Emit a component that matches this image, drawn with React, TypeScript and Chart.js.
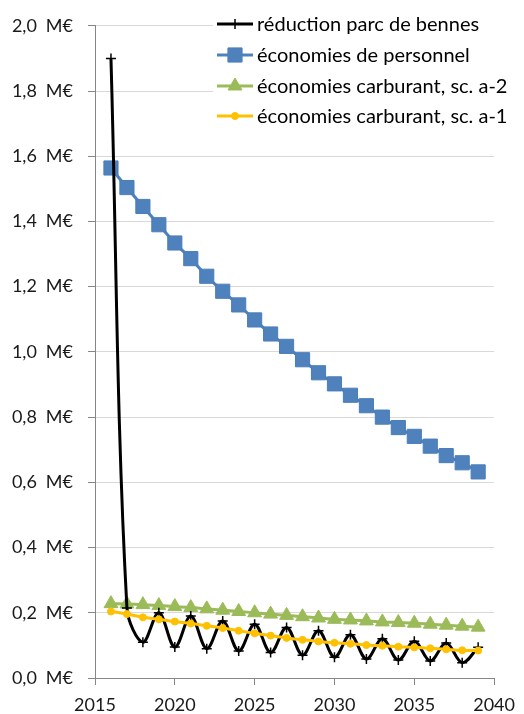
import React, { useEffect, useRef } from 'react';
import { Chart, registerables } from 'chart.js';
import { drawPoint } from 'chart.js/helpers';

Chart.register(...registerables);

// ---- data ----
const years = [2016, 2017, 2018, 2019, 2020, 2021, 2022, 2023, 2024, 2025, 2026, 2027,
  2028, 2029, 2030, 2031, 2032, 2033, 2034, 2035, 2036, 2037, 2038, 2039];

const reductionParc = [1.90, 0.215, 0.11, 0.20, 0.095, 0.19, 0.09, 0.175, 0.083, 0.165, 0.078, 0.155,
  0.07, 0.145, 0.064, 0.133, 0.058, 0.12, 0.055, 0.113, 0.052, 0.107, 0.047, 0.094];

const economiesPersonnel = [1.564, 1.504, 1.446, 1.39, 1.334, 1.286, 1.232, 1.186, 1.144, 1.098, 1.055, 1.017,
  0.976, 0.936, 0.902, 0.867, 0.835, 0.80, 0.768, 0.741, 0.711, 0.682, 0.66, 0.632];

const carburantA2 = [0.228, 0.227, 0.225, 0.222, 0.219, 0.216, 0.212, 0.208, 0.204, 0.200, 0.196, 0.192,
  0.188, 0.184, 0.180, 0.178, 0.175, 0.172, 0.170, 0.168, 0.165, 0.162, 0.159, 0.156];

const carburantA1 = [0.204, 0.196, 0.186, 0.180, 0.173, 0.167, 0.160, 0.153, 0.145, 0.137, 0.130, 0.123,
  0.117, 0.112, 0.108, 0.105, 0.101, 0.099, 0.096, 0.094, 0.091, 0.088, 0.085, 0.084];

const seriesLabels = [
  'réduction parc de bennes',
  'économies de personnel',
  'économies carburant, sc. a-2',
  'économies carburant, sc. a-1',
];

const xTickValues = [2015, 2020, 2025, 2030, 2035, 2040];
const yTickValues = [0, 0.2, 0.4, 0.6, 0.8, 1.0, 1.2, 1.4, 1.6, 1.8, 2.0];

const FONT = 'Lato, "Open Sans", sans-serif';

const toPoints = (vals: number[]) => vals.map((v, i) => ({ x: years[i], y: v }));

const legendPlugin = {
  id: 'excelLegend',
  afterDraw(chart: any) {
    const ctx = chart.ctx;
    ctx.save();
    ctx.fillStyle = '#ffffff';
    ctx.fillRect(213, 6, 311, 126);
    const rowY = [24, 55, 86, 116];
    chart.data.datasets.forEach((ds: any) => {
      const y = rowY[ds.legendIndex];
      ctx.strokeStyle = ds.borderColor;
      ctx.lineWidth = 3;
      ctx.lineCap = 'butt';
      ctx.beginPath();
      ctx.moveTo(217, y);
      ctx.lineTo(253, y);
      ctx.stroke();
      ctx.fillStyle = ds.pointBackgroundColor;
      ctx.strokeStyle = ds.pointBorderColor;
      ctx.lineWidth = ds.pointBorderWidth;
      drawPoint(ctx, {
        pointStyle: ds.pointStyle,
        radius: ds.pointRadius,
        rotation: 0,
        borderWidth: ds.pointBorderWidth,
      } as any, 235, y);
      ctx.fillStyle = '#000000';
      ctx.font = `20px ${FONT}`;
      ctx.textBaseline = 'middle';
      ctx.textAlign = 'left';
      ctx.fillText(ds.label, 257, y + 1);
    });
    ctx.restore();
  },
};

export default function App() {
  const canvasRef = useRef<HTMLCanvasElement | null>(null);

  useEffect(() => {
    const canvas = canvasRef.current;
    if (!canvas) return;
    const chart = new Chart(canvas, {
      type: 'line',
      data: {
        datasets: [
          {
            label: seriesLabels[3],
            legendIndex: 3,
            data: toPoints(carburantA1),
            borderColor: '#ffc000',
            borderWidth: 3,
            pointStyle: 'circle',
            pointRadius: 3.5,
            pointBackgroundColor: '#ffc000',
            pointBorderColor: '#ffc000',
            pointBorderWidth: 1,
            tension: 0.35,
            order: 1,
          } as any,
          {
            label: seriesLabels[0],
            legendIndex: 0,
            data: toPoints(reductionParc),
            borderColor: '#000000',
            borderWidth: 3,
            pointStyle: 'cross',
            pointRadius: 5,
            pointBackgroundColor: '#000000',
            pointBorderColor: '#000000',
            pointBorderWidth: 1.5,
            tension: 0.35,
            order: 2,
          },
          {
            label: seriesLabels[2],
            legendIndex: 2,
            data: toPoints(carburantA2),
            borderColor: '#9bbb59',
            borderWidth: 3,
            pointStyle: 'triangle',
            pointRadius: 8,
            pointBackgroundColor: '#9bbb59',
            pointBorderColor: '#9bbb59',
            pointBorderWidth: 1,
            tension: 0.35,
            order: 3,
          },
          {
            label: seriesLabels[1],
            legendIndex: 1,
            data: toPoints(economiesPersonnel),
            borderColor: '#4f81bd',
            borderWidth: 3,
            pointStyle: 'rect',
            pointRadius: 10,
            pointBackgroundColor: '#4f81bd',
            pointBorderColor: '#4a7ebb',
            pointBorderWidth: 1,
            tension: 0.35,
            order: 4,
          },
        ] as any,
      },
      options: {
        responsive: false,
        animation: false,
        layout: { padding: { top: 20, right: 24, left: 0, bottom: 0 } },
        plugins: {
          legend: { display: false },
          tooltip: { enabled: false },
        },
        scales: {
          x: {
            type: 'linear',
            min: 2015,
            max: 2040,
            afterFit: (s: any) => { s.height = 36; },
            afterBuildTicks: (s: any) => { s.ticks = xTickValues.map((v) => ({ value: v })); },
            grid: {
              drawOnChartArea: false,
              drawTicks: true,
              tickLength: 7,
              tickColor: '#868686',
            },
            border: { color: '#868686', width: 1 },
            ticks: {
              color: '#1a1a1a',
              font: { family: FONT, size: 18 },
              padding: 9,
              maxRotation: 0,
              callback: (v: any) => String(v),
            },
          },
          y: {
            type: 'linear',
            min: 0,
            max: 2,
            afterFit: (s: any) => { s.width = 95; },
            afterBuildTicks: (s: any) => { s.ticks = yTickValues.map((v) => ({ value: v })); },
            grid: {
              color: '#d9d9d9',
              lineWidth: 1,
              drawTicks: true,
              tickLength: 7,
              tickColor: '#868686',
            },
            border: { color: '#868686', width: 1 },
            ticks: {
              color: '#1a1a1a',
              font: { family: FONT, size: 18 },
              padding: 15,
              callback: (v: any) => (Math.round(Number(v) * 10) / 10).toFixed(1).replace('.', ',') + '\u2002M€',
            },
          },
        },
      } as any,
      plugins: [legendPlugin],
    });
    return () => chart.destroy();
  }, []);

  return (
    <div style={{ position: 'absolute', left: 0, top: 0, width: 524, height: 714, background: '#fff' }}>
      <canvas ref={canvasRef} width={524} height={714} style={{ width: 524, height: 714, display: 'block' }} />
    </div>
  );
}
